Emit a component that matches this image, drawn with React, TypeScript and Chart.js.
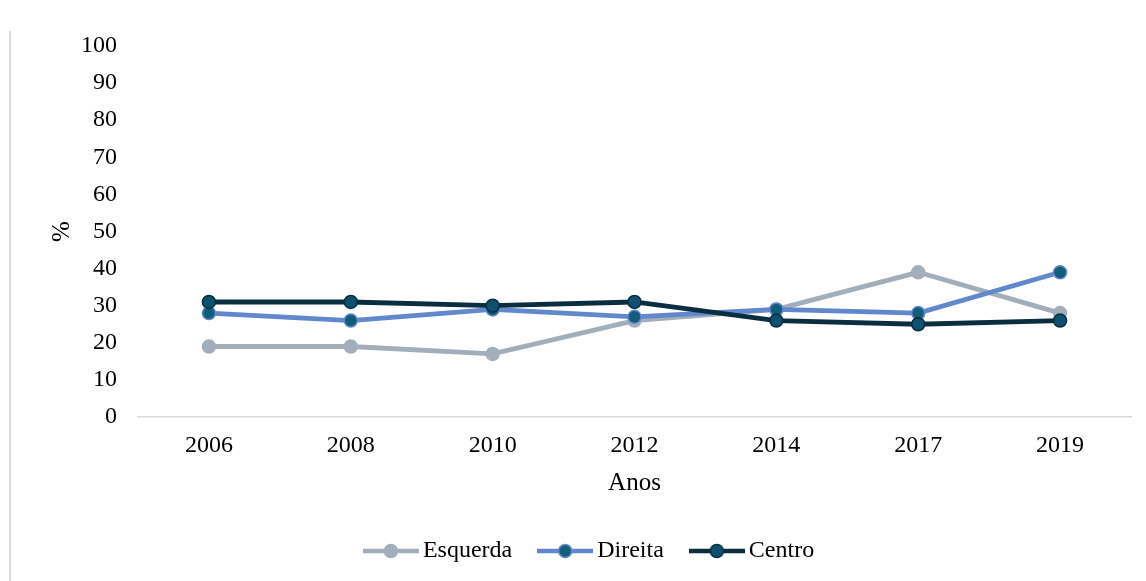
import React, { useEffect, useRef } from "react";
import { Chart, registerables } from "chart.js";

Chart.register(...registerables);

const years = ["2006", "2008", "2010", "2012", "2014", "2017", "2019"];
const esquerda = [19, 19, 17, 26, 29, 39, 28];
const direita = [28, 26, 29, 27, 29, 28, 39];
const centro = [31, 31, 30, 31, 26, 25, 26];
const seriesNames = ["Esquerda", "Direita", "Centro"];
const yAxisTitle = "%";
const xAxisTitle = "Anos";

const FONT = "'Liberation Serif', 'Times New Roman', serif";

function makeLegendIcon(line: string, fill: string, border: string) {
  const c = document.createElement("canvas");
  c.width = 56;
  c.height = 18;
  const ctx = c.getContext("2d")!;
  ctx.strokeStyle = line;
  ctx.lineWidth = 4.5;
  ctx.beginPath();
  ctx.moveTo(0, 9);
  ctx.lineTo(56, 9);
  ctx.stroke();
  ctx.beginPath();
  ctx.arc(28, 9, 6.5, 0, Math.PI * 2);
  ctx.fillStyle = fill;
  ctx.fill();
  ctx.lineWidth = 1.5;
  ctx.strokeStyle = border;
  ctx.stroke();
  return c;
}

export default function App() {
  const ref = useRef<HTMLCanvasElement | null>(null);

  useEffect(() => {
    if (!ref.current) return;
    const styles = [
      { line: "#A2AFBA", fill: "#A2AFBA", border: "#A2AFBA" },
      { line: "#6187CD", fill: "#125C7C", border: "#6187CD" },
      { line: "#0A2E40", fill: "#0F5070", border: "#0A2E40" },
    ];
    const icons = styles.map((s) => makeLegendIcon(s.line, s.fill, s.border));
    const values = [esquerda, direita, centro];
    const orders = [3, 2, 1];

    const chart = new Chart(ref.current, {
      type: "line",
      data: {
        labels: years,
        datasets: seriesNames.map((name, i) => ({
          label: name,
          data: values[i],
          borderColor: styles[i].line,
          backgroundColor: styles[i].fill,
          pointBackgroundColor: styles[i].fill,
          pointBorderColor: styles[i].border,
          pointBorderWidth: 1.5,
          pointRadius: 6.5,
          borderWidth: 4.8,
          tension: 0,
          order: orders[i],
        })),
      },
      options: {
        responsive: false,
        animation: false,
        layout: { padding: { top: 46, left: 54, right: 15, bottom: 8 } },
        plugins: {
          tooltip: { enabled: false },
          legend: {
            position: "bottom",
            labels: {
              usePointStyle: true,
              pointStyleWidth: 40,
              padding: 33,
              color: "#000",
              font: { family: FONT, size: 24 },
              sort: (a: any, b: any) => a.datasetIndex - b.datasetIndex,
              generateLabels: (ch: any) => {
                const items = Chart.defaults.plugins.legend.labels.generateLabels(ch);
                return items.map((it: any) => ({ ...it, pointStyle: icons[it.datasetIndex] }));
              },
            },
          },
        },
        scales: {
          x: {
            offset: true,
            grid: { display: false, drawTicks: false },
            border: { display: true, color: "#D9D9D9", width: 1.5 },
            ticks: { color: "#000", font: { family: FONT, size: 24 }, padding: 14 },
            title: {
              display: true,
              text: xAxisTitle,
              color: "#000",
              font: { family: FONT, size: 25 },
              padding: { top: 0, bottom: 8 },
            },
            afterFit: (s: any) => {
              s.height = 89;
            },
          },
          y: {
            min: 0,
            max: 100,
            grid: { display: false, drawTicks: false },
            border: { display: false },
            ticks: { stepSize: 10, color: "#000", font: { family: FONT, size: 24 }, padding: 21 },
            title: {
              display: true,
              text: yAxisTitle,
              color: "#000",
              font: { family: FONT, size: 25 },
              padding: { top: -7, bottom: 0 },
            },
            afterFit: (s: any) => {
              s.width = 84;
            },
          },
        },
      },
    });
    return () => chart.destroy();
  }, []);

  return (
    <div style={{ position: "fixed", left: 0, top: 0, width: 1146, height: 581, background: "#fff" }}>
      <div style={{ position: "absolute", left: 9, top: 31, width: 2, height: 550, background: "#D9D9D9" }} />
      <canvas ref={ref} width={1146} height={581} style={{ position: "absolute", left: 0, top: 0 }} />
    </div>
  );
}
